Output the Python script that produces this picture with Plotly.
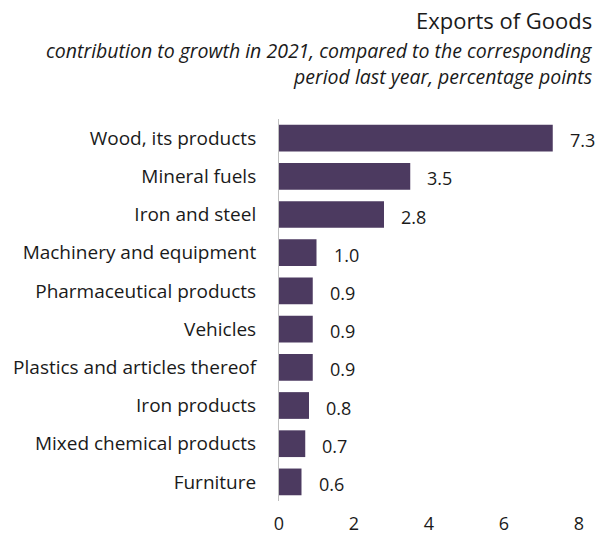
import plotly.graph_objects as go

# Contribution to export growth by product group, percentage points
categories = [
    "Wood, its products",
    "Mineral fuels",
    "Iron and steel",
    "Machinery and equipment",
    "Pharmaceutical products",
    "Vehicles",
    "Plastics and articles thereof",
    "Iron products",
    "Mixed chemical products",
    "Furniture",
]
values = [7.3, 3.5, 2.8, 1.0, 0.9, 0.9, 0.9, 0.8, 0.7, 0.6]
x_ticks = [0, 2, 4, 6, 8]

FONT = "'Open Sans', sans-serif"
BAR_COLOR = "#4C3A60"
TEXT_COLOR = "#1a1a1a"

PLOT_TOP, PLOT_BOTTOM = 119, 38
FIG_H = 539
PLOT_H = FIG_H - PLOT_TOP - PLOT_BOTTOM


def paper_y(px):
    """Convert a pixel row (from the top of the figure) to paper coordinates."""
    return (FIG_H - PLOT_BOTTOM - px) / PLOT_H


fig = go.Figure(
    go.Bar(
        x=values,
        y=categories,
        orientation="h",
        marker=dict(color=BAR_COLOR, line=dict(width=0)),
        width=0.7,
        hoverinfo="skip",
    )
)

# value labels to the right of each bar
for cat, val in zip(categories, values):
    fig.add_annotation(
        x=val, y=cat, text=f"{val:.1f}", showarrow=False,
        xanchor="left", xshift=15, yshift=-2,
        font=dict(family=FONT, size=18, color=TEXT_COLOR),
    )

fig.update_layout(
    width=602, height=FIG_H,
    margin=dict(l=279, r=23, t=PLOT_TOP, b=PLOT_BOTTOM),
    paper_bgcolor="white", plot_bgcolor="white",
    showlegend=False,
    font=dict(family=FONT, size=18, color=TEXT_COLOR),
)
fig.update_xaxes(
    range=[0, 8], tickvals=x_ticks, ticktext=[str(t) for t in x_ticks],
    showgrid=False, zeroline=False, showline=False,
    ticks="", ticklabelstandoff=10, automargin=False,
    tickfont=dict(family=FONT, size=18, color=TEXT_COLOR),
    fixedrange=True,
)
fig.update_yaxes(
    categoryorder="array", categoryarray=categories[::-1],
    range=[-0.5, len(categories) - 0.5],
    showgrid=False, zeroline=False,
    showline=True, linecolor="#BFBFBF", linewidth=1,
    ticks="", ticklabelstandoff=18, automargin=False,
    tickfont=dict(family=FONT, size=19, color=TEXT_COLOR),
    fixedrange=True,
)

# title block, right-aligned
TITLE_X = 1 + (594 - 579) / 300
fig.add_annotation(
    xref="paper", yref="paper", x=TITLE_X, y=paper_y(20),
    xanchor="right", yanchor="middle",
    text="Exports of Goods", showarrow=False,
    font=dict(family=FONT, size=22, color=TEXT_COLOR),
)
for row, line in [(50, "contribution to growth in 2021, compared to the corresponding"),
                  (76, "period last year, percentage points")]:
    fig.add_annotation(
        xref="paper", yref="paper", x=TITLE_X, y=paper_y(row),
        xanchor="right", yanchor="middle",
        text=f"<i>{line}</i>", showarrow=False,
        font=dict(family=FONT, size=19.5, color=TEXT_COLOR),
    )

fig.write_html("out.html")
